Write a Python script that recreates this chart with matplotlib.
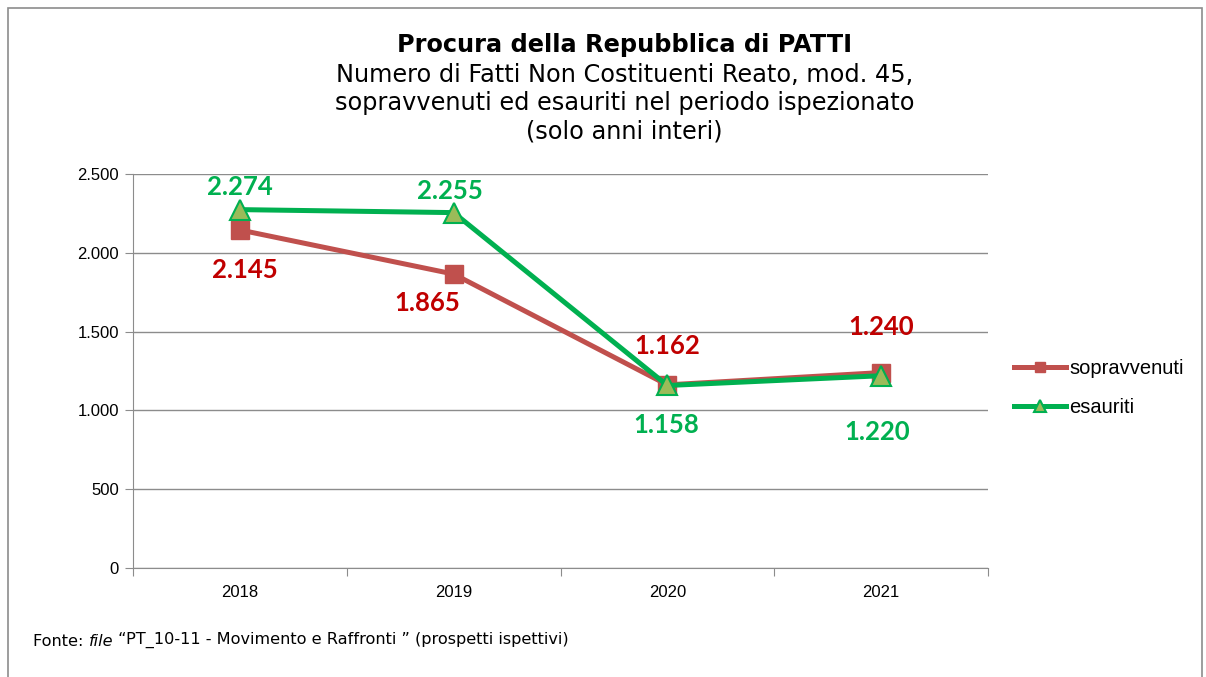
import matplotlib.pyplot as plt
from matplotlib.patches import Rectangle
from matplotlib.ticker import FuncFormatter, MultipleLocator

anni = ["2018", "2019", "2020", "2021"]
sopravvenuti = [2145, 1865, 1162, 1240]
esauriti = [2274, 2255, 1158, 1220]

# label offsets in pixels (dx, dy) relative to each point
off_sopr = [(5, -40), (-26, -29), (0, 39), (0, 46)]
off_esau = [(0, 23), (-4, 22), (-1, -40), (-4, -56)]

ROSSO = "#C0504D"
ROSSO_TXT = "#C00000"
VERDE = "#00B050"
VERDE_FILL = "#9BBB59"
GRIGIO = "#8c8c8c"


def fmt_it(v, pos=None):
    return f"{int(v):,}".replace(",", ".")


fig = plt.figure(figsize=(12.06, 6.77), dpi=100)
fig.patches.append(Rectangle((8 / 1206, -0.01), 1194 / 1206, 0.998, transform=fig.transFigure,
                             fill=False, edgecolor=GRIGIO, linewidth=1.2))

ax = fig.add_axes([133 / 1206, 109 / 677, 855 / 1206, 394 / 677])
x = list(range(len(anni)))

ax.plot(x, sopravvenuti, color=ROSSO, linewidth=3.6, marker="s", markersize=13,
        markerfacecolor=ROSSO, markeredgecolor=ROSSO, label="sopravvenuti", zorder=3)
ax.plot(x, esauriti, color=VERDE, linewidth=3.6, marker="^", markersize=14,
        markerfacecolor=VERDE_FILL, markeredgecolor=VERDE, markeredgewidth=1.5,
        label="esauriti", zorder=4)

for xi, v, (dx, dy) in zip(x, sopravvenuti, off_sopr):
    ax.annotate(fmt_it(v), (xi, v), xytext=(dx * 0.72, dy * 0.72), textcoords="offset points",
                ha="center", va="center", color=ROSSO_TXT, fontsize=18.5, fontweight="bold",
                family="Lato")
for xi, v, (dx, dy) in zip(x, esauriti, off_esau):
    ax.annotate(fmt_it(v), (xi, v), xytext=(dx * 0.72, dy * 0.72), textcoords="offset points",
                ha="center", va="center", color=VERDE, fontsize=18.5, fontweight="bold",
                family="Lato")

ax.set_xlim(-0.5, len(anni) - 0.5)
ax.set_ylim(0, 2500)
ax.yaxis.set_major_locator(MultipleLocator(500))
ax.yaxis.set_major_formatter(FuncFormatter(fmt_it))
ax.grid(axis="y", color=GRIGIO, linewidth=1)
ax.set_axisbelow(True)

ax.set_xticks([i - 0.5 for i in range(len(anni) + 1)])
ax.set_xticklabels([])
ax.set_xticks(x, minor=True)
ax.set_xticklabels(anni, minor=True, family="Liberation Sans", fontsize=12)
ax.tick_params(axis="x", which="major", length=6, color=GRIGIO)
ax.tick_params(axis="x", which="minor", length=0, pad=12)
ax.tick_params(axis="y", length=6, color=GRIGIO, labelsize=12, pad=4)
for lab in ax.get_yticklabels():
    lab.set_family("Liberation Sans")

for s in ["top", "right"]:
    ax.spines[s].set_visible(False)
ax.spines["left"].set_color(GRIGIO)
ax.spines["bottom"].set_color(GRIGIO)

ax.legend(loc="center left", bbox_to_anchor=(1.03, 0.457), frameon=False,
          prop={"family": "Liberation Sans", "size": 14.5}, handlelength=2.6,
          handletextpad=0.15, labelspacing=1.0, markerscale=0.6,
          borderaxespad=0, borderpad=0)

fig.text(0.518, 1 - 45 / 677, "Procura della Repubblica di PATTI", ha="center", va="center",
         fontsize=17.3, fontweight="bold", family="DejaVu Sans")
righe = ["Numero di Fatti Non Costituenti Reato, mod. 45,",
         "sopravvenuti ed esauriti nel periodo ispezionato",
         "(solo anni interi)"]
for i, riga in enumerate(righe):
    fig.text(0.518, 1 - (75 + 28 * i) / 677, riga, ha="center", va="center",
             fontsize=17.3, family="DejaVu Sans")

t1 = fig.text(33 / 1206, 1 - 641 / 677, "Fonte: ", ha="left", va="center", fontsize=11.6,
              family="DejaVu Sans")
t2 = ax.annotate("file", xy=(1, 0), xycoords=t1, va="bottom", ha="left",
                 fontsize=11.6, family="DejaVu Sans", style="italic")
ax.annotate(" \u201cPT_10-11 - Movimento e Raffronti \u201d (prospetti ispettivi)", xy=(1, 0),
            xycoords=t2, va="bottom", ha="left", fontsize=11.6, family="DejaVu Sans")

fig.savefig("out.png", dpi=100)
